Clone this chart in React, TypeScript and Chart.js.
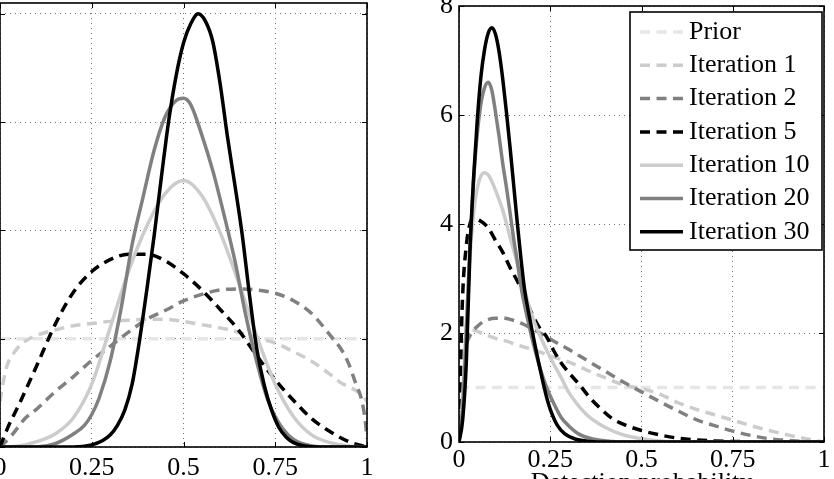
import React, { useEffect, useRef } from "react";
import { Chart, registerables } from "chart.js";

Chart.register(...registerables);

const FONT = "'Liberation Serif', 'Times New Roman', Times, serif";
const FONT_SIZE = 26;

type Pt = [number, number];

// Series styling (shared by both panels)
const seriesNames = ["Prior", "Iteration 1", "Iteration 2", "Iteration 5", "Iteration 10", "Iteration 20", "Iteration 30"];
const seriesColors = ["#e6e6e6", "#cccccc", "#808080", "#000000", "#cccccc", "#808080", "#000000"];
const seriesDashed = [true, true, true, true, false, false, false];

// Tick positions
const xTicks = [0, 0.25, 0.5, 0.75, 1];
const leftYTicks = [0, 1, 2, 3, 4];
const rightYTicks = [0, 2, 4, 6, 8];
const rightXTitle = "Detection probability";

// ---- Left panel densities: [probability, density] ----
const leftPrior: Pt[] = [[0, 1], [1, 1]];
const leftIter1: Pt[] = [
  [0, 0.42], [0.01, 0.62], [0.02, 0.76], [0.04, 0.88], [0.07, 0.98], [0.1, 1.03], [0.15, 1.08], [0.2, 1.12],
  [0.25, 1.14], [0.3, 1.16], [0.35, 1.17], [0.4, 1.18], [0.45, 1.18], [0.5, 1.16], [0.55, 1.13], [0.6, 1.1],
  [0.65, 1.06], [0.7, 1.01], [0.75, 0.96], [0.8, 0.88], [0.85, 0.79], [0.9, 0.67], [0.93, 0.59], [0.96, 0.54],
  [0.99, 0.47], [1, 0.42],
];
const leftIter2: Pt[] = [
  [0, 0], [0.03, 0.1], [0.07, 0.27], [0.1, 0.35], [0.15, 0.51], [0.2, 0.65], [0.25, 0.8], [0.3, 0.93],
  [0.35, 1.06], [0.4, 1.18], [0.45, 1.26], [0.5, 1.35], [0.55, 1.41], [0.6, 1.45], [0.65, 1.46], [0.7, 1.45],
  [0.75, 1.42], [0.8, 1.35], [0.85, 1.23], [0.9, 1.03], [0.93, 0.9], [0.95, 0.77], [0.97, 0.58], [0.985, 0.44],
  [0.995, 0.25], [1, 0.08],
];
const leftIter5: Pt[] = [
  [0, 0], [0.02, 0.17], [0.05, 0.38], [0.1, 0.75], [0.15, 1.13], [0.2, 1.43], [0.25, 1.62], [0.3, 1.73],
  [0.35, 1.78], [0.4, 1.78], [0.45, 1.72], [0.5, 1.6], [0.55, 1.45], [0.6, 1.27], [0.65, 1.08], [0.7, 0.84],
  [0.75, 0.62], [0.8, 0.43], [0.85, 0.26], [0.9, 0.14], [0.95, 0.05], [1, 0],
];
const leftIter10: Pt[] = [
  [0, 0], [0.05, 0.01], [0.1, 0.05], [0.15, 0.12], [0.2, 0.27], [0.25, 0.58], [0.3, 1.1], [0.35, 1.62],
  [0.4, 2.04], [0.45, 2.34], [0.5, 2.46], [0.55, 2.32], [0.6, 1.98], [0.65, 1.52], [0.7, 1.02], [0.75, 0.58],
  [0.8, 0.28], [0.85, 0.11], [0.9, 0.04], [0.95, 0.01], [1, 0],
];
const leftIter20: Pt[] = [
  [0, 0], [0.1, 0], [0.15, 0.03], [0.2, 0.12], [0.23, 0.2], [0.25, 0.3], [0.27, 0.45], [0.3, 0.79],
  [0.33, 1.28], [0.36, 1.87], [0.39, 2.31], [0.42, 2.74], [0.45, 3.05], [0.48, 3.2], [0.5, 3.22], [0.52, 3.16],
  [0.55, 2.88], [0.58, 2.55], [0.61, 2.15], [0.64, 1.72], [0.67, 1.21], [0.7, 0.78], [0.73, 0.43], [0.75, 0.28],
  [0.77, 0.17], [0.8, 0.07], [0.85, 0.01], [0.9, 0], [1, 0],
];
const leftIter30: Pt[] = [
  [0, 0], [0.2, 0], [0.25, 0.02], [0.28, 0.06], [0.3, 0.11], [0.32, 0.2], [0.34, 0.34], [0.36, 0.58],
  [0.38, 0.98], [0.4, 1.45], [0.42, 1.95], [0.44, 2.5], [0.46, 3.02], [0.48, 3.43], [0.5, 3.73], [0.52, 3.91],
  [0.54, 4.0], [0.56, 3.93], [0.58, 3.74], [0.6, 3.35], [0.62, 2.86], [0.64, 2.42], [0.66, 1.96], [0.68, 1.4],
  [0.7, 0.9], [0.72, 0.57], [0.74, 0.34], [0.76, 0.18], [0.78, 0.09], [0.8, 0.04], [0.83, 0.01], [0.87, 0],
  [1, 0],
];

// ---- Right panel densities: [detection probability, density] ----
const rightPrior: Pt[] = [[0, 1], [1, 1]];
const rightIter1: Pt[] = [
  [0, 0], [0.005, 1.0], [0.01, 1.6], [0.02, 1.95], [0.04, 2.05], [0.06, 2.0], [0.08, 1.95], [0.1, 1.9],
  [0.13, 1.85], [0.16, 1.78], [0.2, 1.7], [0.25, 1.58], [0.3, 1.47], [0.35, 1.32], [0.4, 1.18], [0.45, 1.05],
  [0.5, 0.98], [0.55, 0.88], [0.6, 0.72], [0.65, 0.6], [0.7, 0.5], [0.75, 0.4], [0.8, 0.3], [0.85, 0.21],
  [0.9, 0.13], [0.95, 0.06], [1, 0],
];
const rightIter2: Pt[] = [
  [0, 0], [0.01, 1.1], [0.02, 1.75], [0.03, 1.95], [0.05, 2.12], [0.07, 2.22], [0.1, 2.27], [0.12, 2.27],
  [0.14, 2.25], [0.17, 2.18], [0.2, 2.08], [0.23, 1.97], [0.26, 1.85], [0.3, 1.7], [0.35, 1.5], [0.4, 1.3],
  [0.45, 1.1], [0.5, 0.92], [0.55, 0.74], [0.6, 0.57], [0.65, 0.41], [0.7, 0.3], [0.75, 0.2], [0.8, 0.12],
  [0.85, 0.06], [0.9, 0.03], [0.95, 0.01], [1, 0],
];
const rightIter5: Pt[] = [
  [0, 0], [0.005, 1.6], [0.01, 2.7], [0.02, 3.6], [0.03, 4.0], [0.04, 4.1], [0.06, 4.05], [0.08, 3.93],
  [0.1, 3.7], [0.12, 3.48], [0.14, 3.2], [0.16, 2.95], [0.18, 2.68], [0.2, 2.35], [0.22, 2.1], [0.24, 1.93],
  [0.26, 1.67], [0.28, 1.45], [0.3, 1.28], [0.33, 1.05], [0.36, 0.8], [0.39, 0.6], [0.42, 0.43], [0.46, 0.3],
  [0.5, 0.21], [0.55, 0.13], [0.6, 0.07], [0.65, 0.04], [0.7, 0.02], [0.8, 0.005], [1, 0],
];
const rightIter10: Pt[] = [
  [0, 0], [0.01, 0.8], [0.02, 2.2], [0.03, 3.4], [0.04, 4.2], [0.05, 4.65], [0.06, 4.88], [0.07, 4.94],
  [0.08, 4.9], [0.09, 4.78], [0.1, 4.62], [0.12, 4.25], [0.14, 3.75], [0.16, 3.28], [0.18, 2.78], [0.2, 2.32],
  [0.22, 1.98], [0.25, 1.55], [0.28, 1.18], [0.3, 0.92], [0.35, 0.5], [0.4, 0.27], [0.45, 0.13], [0.5, 0.06],
  [0.55, 0.02], [0.6, 0], [1, 0],
];
const rightIter20: Pt[] = [
  [0, 0], [0.01, 0.6], [0.02, 2.0], [0.03, 3.6], [0.04, 4.8], [0.05, 5.65], [0.06, 6.2], [0.07, 6.5],
  [0.08, 6.6], [0.09, 6.45], [0.1, 6.05], [0.11, 5.6], [0.12, 5.1], [0.13, 4.67], [0.14, 4.2], [0.15, 3.72],
  [0.16, 3.3], [0.17, 2.85], [0.18, 2.5], [0.19, 2.2], [0.2, 1.9], [0.22, 1.4], [0.24, 1.0], [0.26, 0.7],
  [0.28, 0.45], [0.3, 0.3], [0.33, 0.14], [0.37, 0.05], [0.42, 0.01], [0.45, 0], [1, 0],
];
const rightIter30: Pt[] = [
  [0, 0], [0.01, 0.4], [0.02, 1.45], [0.03, 3.5], [0.04, 4.85], [0.05, 5.9], [0.06, 6.7], [0.07, 7.2],
  [0.08, 7.5], [0.09, 7.6], [0.1, 7.48], [0.11, 7.15], [0.12, 6.65], [0.13, 6.05], [0.14, 5.4], [0.15, 4.7],
  [0.16, 4.0], [0.17, 3.35], [0.18, 2.78], [0.19, 2.4], [0.2, 2.05], [0.21, 1.72], [0.22, 1.4], [0.23, 1.1],
  [0.24, 0.82], [0.25, 0.6], [0.27, 0.3], [0.29, 0.15], [0.32, 0.05], [0.36, 0.01], [0.4, 0], [1, 0],
];

const leftSeries = [leftPrior, leftIter1, leftIter2, leftIter5, leftIter10, leftIter20, leftIter30];
const rightSeries = [rightPrior, rightIter1, rightIter2, rightIter5, rightIter10, rightIter20, rightIter30];

const DASH = [10, 6.5];
const LINE_WIDTH = 3.5;

function buildDatasets(series: Pt[][]) {
  return series.map((pts, i) => ({
    label: seriesNames[i],
    data: pts.map(([x, y]) => ({ x, y })),
    borderColor: seriesColors[i],
    backgroundColor: seriesColors[i],
    borderWidth: LINE_WIDTH,
    borderDash: seriesDashed[i] ? DASH : [],
    pointRadius: 0,
    pointHoverRadius: 0,
    fill: false,
    cubicInterpolationMode: "monotone" as const,
    order: series.length - 1 - i,
  }));
}

// Black box around the plot area plus inward-pointing tick marks on all four sides
const framePlugin = {
  id: "frame",
  afterDatasetsDraw(chart: any) {
    const { ctx, chartArea: a, scales } = chart;
    const tick = 5;
    ctx.save();
    ctx.strokeStyle = "#000";
    ctx.lineWidth = 1;
    ctx.beginPath();
    for (const t of scales.x.ticks) {
      const px = Math.round(scales.x.getPixelForValue(t.value)) + 0.5;
      ctx.moveTo(px, a.bottom);
      ctx.lineTo(px, a.bottom - tick);
      ctx.moveTo(px, a.top);
      ctx.lineTo(px, a.top + tick);
    }
    for (const t of scales.y.ticks) {
      const py = Math.round(scales.y.getPixelForValue(t.value)) + 0.5;
      ctx.moveTo(a.left, py);
      ctx.lineTo(a.left + tick, py);
      ctx.moveTo(a.right, py);
      ctx.lineTo(a.right - tick, py);
    }
    ctx.stroke();
    ctx.lineWidth = 1.6;
    ctx.strokeRect(a.left, a.top, a.right - a.left, a.bottom - a.top);
    ctx.restore();
  },
};

// Boxed legend drawn inside the plot area (top-right corner)
const boxLegendPlugin = {
  id: "boxLegend",
  afterDraw(chart: any, _args: any, opts: any) {
    if (!opts || !opts.display) return;
    const { ctx, chartArea: a } = chart;
    const left = a.right - opts.right - opts.width;
    const top = a.top + opts.top;
    ctx.save();
    ctx.fillStyle = "#fff";
    ctx.fillRect(left, top, opts.width, opts.height);
    ctx.strokeStyle = "#000";
    ctx.lineWidth = 1.6;
    ctx.strokeRect(left, top, opts.width, opts.height);
    ctx.font = `${FONT_SIZE}px ${FONT}`;
    ctx.textBaseline = "middle";
    ctx.textAlign = "left";
    chart.data.datasets.forEach((ds: any, i: number) => {
      const cy = top + opts.firstRow + i * opts.rowGap;
      ctx.strokeStyle = ds.borderColor;
      ctx.lineWidth = ds.borderWidth;
      ctx.setLineDash(ds.borderDash || []);
      ctx.beginPath();
      ctx.moveTo(left + opts.lineStart, cy);
      ctx.lineTo(left + opts.lineEnd, cy);
      ctx.stroke();
      ctx.setLineDash([]);
      ctx.fillStyle = "#000";
      ctx.fillText(ds.label, left + opts.textStart, cy);
    });
    ctx.restore();
  },
};

const gridStyle = { color: "#707070", lineWidth: 1, drawTicks: false };
const gridBorder = { display: false, dash: [1, 4] };
const tickFont = { family: FONT, size: FONT_SIZE };
const formatTick = (v: number | string) => String(Number(v));

interface PanelProps {
  series: Pt[][];
  yMax: number;
  yTicks: number[];
  showYLabels: boolean;
  yAxisWidth: number;
  xAxisHeight: number;
  xLabelPad: number;
  padding: { left: number; right: number; top: number; bottom: number };
  xTitle?: string;
  legend: boolean;
  width: number;
  height: number;
  style: React.CSSProperties;
}

function Panel(props: PanelProps) {
  const ref = useRef<HTMLCanvasElement | null>(null);
  useEffect(() => {
    if (!ref.current) return;
    const chart = new Chart(ref.current, {
      type: "line",
      data: { datasets: buildDatasets(props.series) as any },
      plugins: [framePlugin, boxLegendPlugin],
      options: {
        animation: false,
        responsive: false,
        devicePixelRatio: 1,
        layout: { padding: props.padding },
        events: [],
        plugins: {
          legend: { display: false },
          tooltip: { enabled: false },
          boxLegend: {
            display: props.legend,
            width: 192,
            height: 238,
            right: 2,
            top: 6,
            firstRow: 20,
            rowGap: 33.3,
            lineStart: 10,
            lineEnd: 53,
            textStart: 59,
          },
        } as any,
        scales: {
          x: {
            type: "linear",
            min: 0,
            max: 1,
            afterBuildTicks: (s: any) => {
              s.ticks = xTicks.map((v) => ({ value: v }));
            },
            afterFit: (s: any) => {
              s.height = props.xAxisHeight;
              s.paddingLeft = 0;
              s.paddingRight = 0;
            },
            ticks: {
              font: tickFont,
              color: "#000",
              padding: props.xLabelPad,
              maxRotation: 0,
              autoSkip: false,
              callback: formatTick,
            },
            grid: gridStyle,
            border: gridBorder,
            title: {
              display: !!props.xTitle,
              text: props.xTitle || "",
              font: tickFont,
              color: "#000",
              padding: { top: 0, bottom: 11 },
            },
          },
          y: {
            type: "linear",
            min: 0,
            max: props.yMax,
            afterBuildTicks: (s: any) => {
              s.ticks = props.yTicks.map((v) => ({ value: v }));
            },
            afterFit: (s: any) => {
              s.width = props.yAxisWidth;
              s.paddingTop = 0;
              s.paddingBottom = 0;
            },
            ticks: { display: props.showYLabels, font: tickFont, color: "#000", padding: 6, callback: formatTick },
            grid: gridStyle,
            border: gridBorder,
          },
        },
      } as any,
    });
    return () => chart.destroy();
  }, []);
  return <canvas ref={ref} width={props.width} height={props.height} style={props.style} />;
}

export default function App() {
  return (
    <div
      style={{
        position: "fixed",
        left: 0,
        top: 0,
        width: 834,
        height: 479,
        overflow: "hidden",
        background: "#fff",
      }}
    >
      <Panel
        series={leftSeries}
        yMax={4.1}
        yTicks={leftYTicks}
        showYLabels={false}
        yAxisWidth={40}
        xAxisHeight={63}
        xLabelPad={6}
        padding={{ left: 0, right: 13, top: 3, bottom: 0 }}
        legend={false}
        width={420}
        height={510}
        style={{ position: "absolute", left: -40, top: 0 }}
      />
      <Panel
        series={rightSeries}
        yMax={8}
        yTicks={rightYTicks}
        showYLabels={true}
        yAxisWidth={39}
        xAxisHeight={68}
        xLabelPad={3}
        padding={{ left: 0, right: 10, top: 6, bottom: 0 }}
        xTitle={rightXTitle}
        legend={true}
        width={414}
        height={510}
        style={{ position: "absolute", left: 420, top: 0 }}
      />
    </div>
  );
}
